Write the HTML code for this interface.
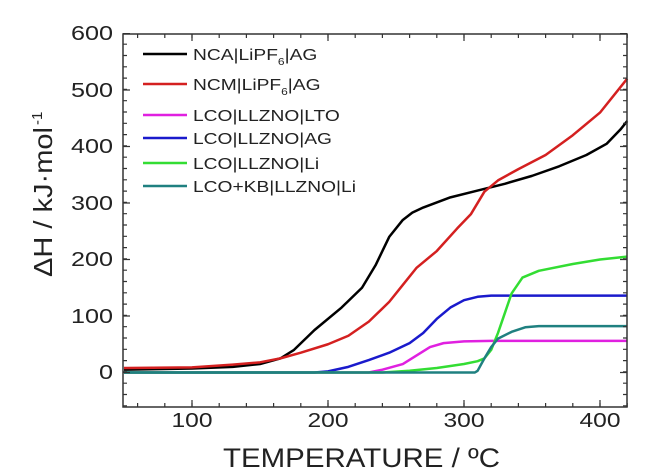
<!DOCTYPE html>
<html><head><style>body{margin:0;background:#fff}svg{display:block}</style></head><body>
<svg width="666" height="474" xmlns="http://www.w3.org/2000/svg" font-family="Liberation Sans, sans-serif">
<rect width="666" height="474" fill="#fff"/>
<g transform="matrix(1.36 0 0 -0.565 56 372.5)" fill="none" stroke-width="2.5" stroke-linejoin="round">
<polyline vector-effect="non-scaling-stroke" stroke="#000" points="50,5 100,7 130,10 150,15 165,25 175,40 190,75 210,115 225,150 235,190 245,240 255,270 262,283 270,292 290,310 310,322 330,334 350,348 370,365 390,385 405,405 415,430 420,445"/>
<polyline vector-effect="non-scaling-stroke" stroke="#d42020" points="50,8 100,9 130,14 150,18 165,25 180,35 200,50 215,65 230,90 245,125 255,155 265,185 280,215 295,255 305,280 315,320 325,340 340,360 360,385 380,420 400,460 420,520"/>
<polyline vector-effect="non-scaling-stroke" stroke="#e020e0" points="50,0 230,0 240,5 255,15 265,30 275,45 285,52 300,55 320,56 420,56"/>
<polyline vector-effect="non-scaling-stroke" stroke="#1a1acc" points="50,0 190,0 200,2 215,10 230,22 245,35 260,52 270,70 280,95 290,115 300,128 310,134 320,136 420,136"/>
<polyline vector-effect="non-scaling-stroke" stroke="#33dd33" points="50,0 240,0 260,3 280,8 300,15 310,20 315,25 320,40 325,70 330,105 335,140 343,168 355,180 380,192 400,200 420,205"/>
<polyline vector-effect="non-scaling-stroke" stroke="#1f8080" points="50,0 308,0 310,3 315,25 320,45 325,60 335,72 345,80 355,82 420,82"/>
</g>
<g stroke="#333">
<!-- x minor ticks -->
<line x1="137" x2="628" y1="405" y2="405" stroke-width="4" stroke-dasharray="1.2 26"/>
<line x1="137" x2="628" y1="36" y2="36" stroke-width="4" stroke-dasharray="1.2 26"/>
<!-- x major -->
<line x1="191.4" x2="628" y1="403.5" y2="403.5" stroke-width="7" stroke-dasharray="1.2 134.8"/>
<line x1="191.4" x2="628" y1="37.5" y2="37.5" stroke-width="7" stroke-dasharray="1.2 134.8"/>
<!-- y minor -->
<line y1="406.4" y2="33" x1="125" x2="125" stroke-width="4" stroke-dasharray="1.2 10.1"/>
<line y1="406.4" y2="33" x1="625" x2="625" stroke-width="4" stroke-dasharray="1.2 10.1"/>
<!-- y major -->
<line y1="373.1" y2="33" x1="126.5" x2="126.5" stroke-width="7" stroke-dasharray="1.2 55.3"/>
<line y1="373.1" y2="33" x1="623.5" x2="623.5" stroke-width="7" stroke-dasharray="1.2 55.3"/>
</g>
<rect x="123" y="34" width="504" height="373" fill="none" stroke="#333" stroke-width="1.5"/>
<g font-size="20" fill="#222" text-anchor="end" lengthAdjust="spacingAndGlyphs">
<text x="113" y="40" textLength="42" lengthAdjust="spacingAndGlyphs">600</text>
<text x="113" y="97" textLength="42" lengthAdjust="spacingAndGlyphs">500</text>
<text x="113" y="153" textLength="42" lengthAdjust="spacingAndGlyphs">400</text>
<text x="113" y="210" textLength="42" lengthAdjust="spacingAndGlyphs">300</text>
<text x="113" y="266" textLength="42" lengthAdjust="spacingAndGlyphs">200</text>
<text x="113" y="323" textLength="42" lengthAdjust="spacingAndGlyphs">100</text>
<text x="113" y="379" textLength="14" lengthAdjust="spacingAndGlyphs">0</text>
</g>
<g font-size="20" fill="#222" text-anchor="middle">
<text x="192" y="427" textLength="41" lengthAdjust="spacingAndGlyphs">100</text>
<text x="328" y="427" textLength="41" lengthAdjust="spacingAndGlyphs">200</text>
<text x="464" y="427" textLength="41" lengthAdjust="spacingAndGlyphs">300</text>
<text x="600" y="427" textLength="41" lengthAdjust="spacingAndGlyphs">400</text>
</g>
<text x="223" y="467" font-size="27" fill="#222" textLength="277" lengthAdjust="spacingAndGlyphs">TEMPERATURE / ºC</text>
<g transform="translate(52,277) rotate(-90)" fill="#222">
<text x="0" y="0" font-size="26" textLength="150" lengthAdjust="spacingAndGlyphs">ΔH / kJ·mol</text>
<text x="152" y="-10" font-size="15">-1</text>
</g>
<g stroke-width="2.5">
<line x1="143" x2="187" y1="54" y2="54" stroke="#000"/>
<line x1="143" x2="187" y1="84" y2="84" stroke="#d42020"/>
<line x1="143" x2="187" y1="115" y2="115" stroke="#e020e0"/>
<line x1="143" x2="187" y1="138" y2="138" stroke="#1a1acc"/>
<line x1="143" x2="187" y1="163" y2="163" stroke="#33dd33"/>
<line x1="143" x2="187" y1="186" y2="186" stroke="#1f8080"/>
</g>
<g font-size="16" fill="#222" transform="translate(193,0) scale(1.2,1)">
<text x="0" y="60">NCA|LiPF<tspan dy="5" font-size="10">6</tspan><tspan dy="-5">|AG</tspan></text>
<text x="0" y="90">NCM|LiPF<tspan dy="5" font-size="10">6</tspan><tspan dy="-5">|AG</tspan></text>
<text x="0" y="121">LCO|LLZNO|LTO</text>
<text x="0" y="144">LCO|LLZNO|AG</text>
<text x="0" y="169">LCO|LLZNO|Li</text>
<text x="0" y="192">LCO+KB|LLZNO|Li</text>
</g>
</svg>
</body></html>
